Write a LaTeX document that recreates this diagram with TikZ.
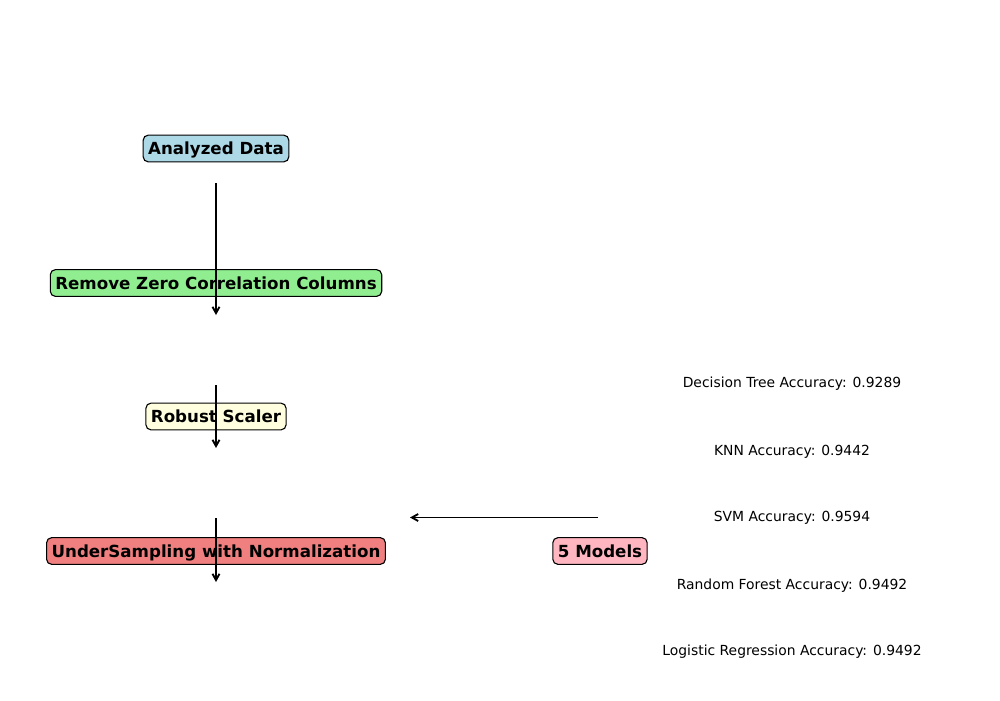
\documentclass[tikz,border=0pt]{standalone}
\usepackage{fontspec}
\setmainfont{DejaVu Sans}
\usetikzlibrary{arrows.meta}
\definecolor{cblue}{RGB}{173,216,230}
\definecolor{cgreen}{RGB}{144,238,144}
\definecolor{cyellow}{RGB}{255,255,224}
\definecolor{ccoral}{RGB}{240,128,128}
\definecolor{cpink}{RGB}{255,182,193}
\begin{document}
\begin{tikzpicture}[x=0.72pt,y=-0.72pt,
  stage/.style={draw=black,line width=0.8pt,rounded corners=3.6pt,inner xsep=3.6pt,inner ysep=3.6pt,
    text height=10.4pt,text depth=1.6pt,font=\fontsize{12}{14}\selectfont\bfseries},
  acc/.style={inner sep=0pt,font=\fontsize{10}{12}\selectfont},
  flow/.style={line width=1.35pt,-{Straight Barb[length=4.5pt,width=5pt,line width=1.35pt]}}]
\useasboundingbox (0,0) rectangle (1000,700);
\node[stage,fill=cblue] (a) at (216,148.5) {Analyzed Data};
\node[stage,fill=cgreen] (b) at (216,283) {Remove Zero Correlation Columns};
\node[stage,fill=cyellow] (c) at (216,416.5) {Robust Scaler};
\node[stage,fill=ccoral] (d) at (216,551) {UnderSampling with Normalization};
\node[stage,fill=cpink] (m) at (600,551) {5 Models};
\node[acc] (r1) at (792,384) {Decision Tree Accuracy: 0.9289};
\node[acc] (r2) at (792,452) {KNN Accuracy: 0.9442};
\node[acc] (r3) at (792,518) {SVM Accuracy: 0.9594};
\node[acc] (r4) at (792,586) {Random Forest Accuracy: 0.9492};
\node[acc] (r5) at (792,652) {Logistic Regression Accuracy: 0.9492};
\coordinate (a1) at (216,183);
\coordinate (a2) at (216,315);
\coordinate (b1) at (216,385);
\coordinate (b2) at (216,448);
\coordinate (c1) at (216,518);
\coordinate (c2) at (216,582);
\coordinate (m1) at (598,517.5);
\coordinate (m2) at (410,517.5);
\draw[flow] (a1) -- (a2);
\draw[flow] (b1) -- (b2);
\draw[flow] (c1) -- (c2);
\draw[flow] (m1) -- (m2);
\end{tikzpicture}
\end{document}
